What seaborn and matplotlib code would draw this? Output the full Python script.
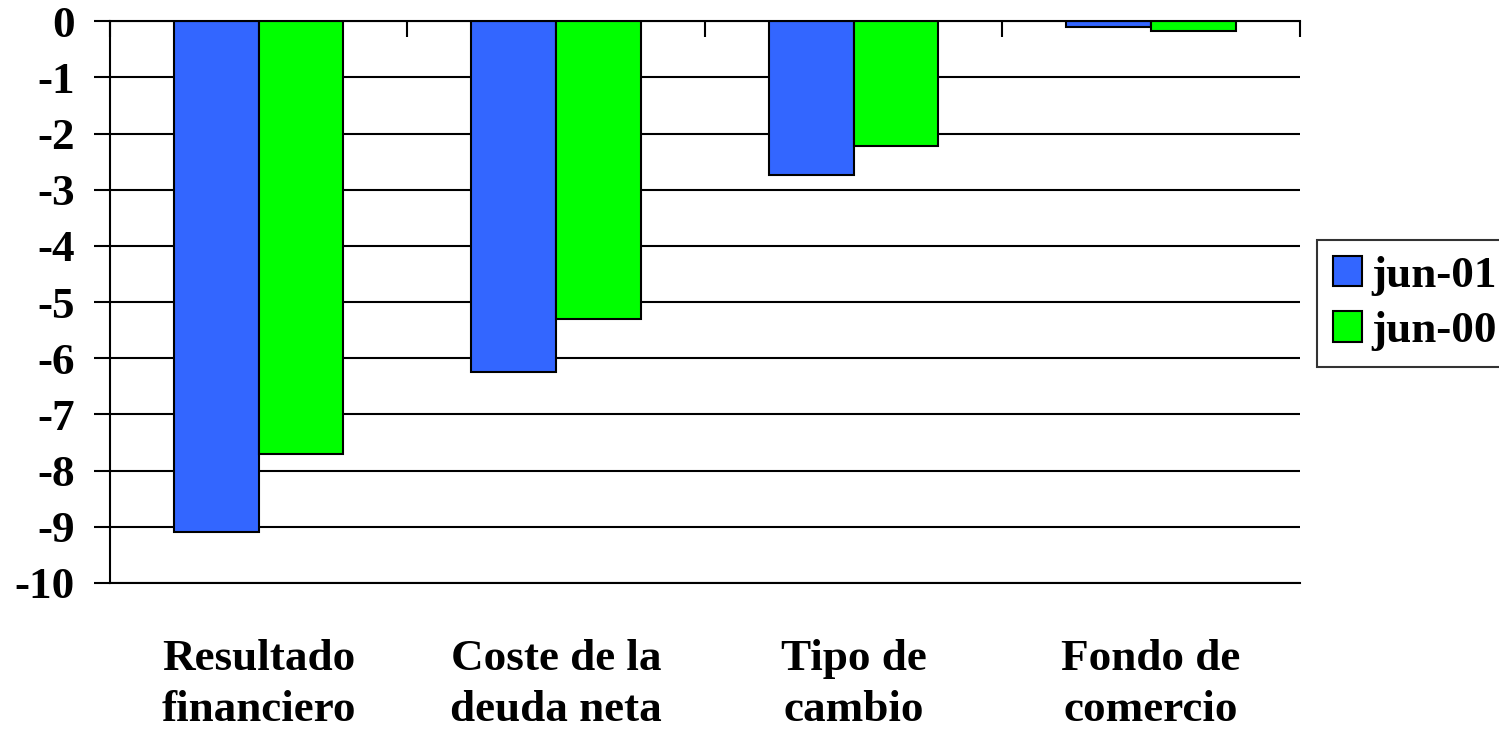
import pandas as pd
import numpy as np
import matplotlib
matplotlib.use('Agg')
import matplotlib.pyplot as plt
import seaborn as sns

# Chart data
categories = ['Resultado\nfinanciero', 'Coste de la\ndeuda neta', 'Tipo de\ncambio', 'Fondo de\ncomercio']
series_names = ['jun-01', 'jun-00']
jun01 = [-9.1, -6.25, -2.74, -0.11]
jun00 = [-7.7, -5.3, -2.22, -0.18]
colors = ['#3366FF', '#00FF00']
y_ticks = list(range(0, -11, -1))


def build_frame():
    rows = []
    for name, vals in zip(series_names, [jun01, jun00]):
        for cat, v in zip(categories, vals):
            rows.append({'cat': cat, 'serie': name, 'valor': v})
    return pd.DataFrame(rows)


def main():
    sns.set_style('white')
    plt.rcParams['font.family'] = ['Liberation Serif', 'DejaVu Serif']
    plt.rcParams['font.weight'] = 'bold'
    plt.rcParams['text.color'] = 'black'
    plt.rcParams['xtick.color'] = 'black'
    plt.rcParams['ytick.color'] = 'black'

    fs = 32.5
    df = build_frame()
    fig = plt.figure(figsize=(14.99, 7.31), dpi=100)
    ax = fig.add_axes([0.0734, 0.2025, 0.7936, 0.7685])

    sns.barplot(data=df, x='cat', y='valor', hue='serie', hue_order=series_names,
                palette=colors, width=0.57, edgecolor='black', linewidth=1.5,
                saturation=1, ax=ax)

    ax.set_ylim(-10, 0)
    ax.set_xlim(-0.5, len(categories) - 0.5)
    ax.set_yticks(y_ticks)
    ax.set_yticklabels([str(t) for t in y_ticks], fontsize=fs, fontweight='bold')
    ax.yaxis.grid(True, color='black', linewidth=1.5)
    ax.set_axisbelow(True)
    ax.tick_params(axis='y', direction='out', length=11.5, width=1.5, pad=14, left=True)

    # category labels below the plot, boundary ticks on the zero line
    ax.set_xticks(range(len(categories)))
    ax.set_xticklabels(categories, fontsize=fs, fontweight='bold', linespacing=1.38)
    ax.tick_params(axis='x', which='major', length=0, pad=40, bottom=True)
    ax.set_xticks(np.arange(-0.5, len(categories)), minor=True)
    ax.tick_params(axis='x', which='minor', top=True, bottom=False, direction='in',
                   length=11.5, width=1.5)
    ax.set_xlabel('')
    ax.set_ylabel('')

    for side in ['left', 'top', 'bottom']:
        ax.spines[side].set_visible(True)
        ax.spines[side].set_color('black')
        ax.spines[side].set_linewidth(1.5)
    ax.spines['right'].set_visible(False)

    handles, labels = ax.get_legend_handles_labels()
    ax.legend_.remove()
    leg = fig.legend(handles, labels, loc='upper left', bbox_to_anchor=(0.8786, 0.672),
                     bbox_transform=fig.transFigure, prop={'weight': 'bold', 'size': fs},
                     frameon=True, fancybox=False, handlelength=0.65, handleheight=0.65,
                     handletextpad=0.2, labelspacing=0.35, borderpad=0.35, borderaxespad=0)
    leg.get_frame().set_edgecolor('black')
    leg.get_frame().set_linewidth(1.5)

    fig.savefig('out.png', dpi=100)
    plt.close(fig)


if __name__ == "__main__":
    main()
